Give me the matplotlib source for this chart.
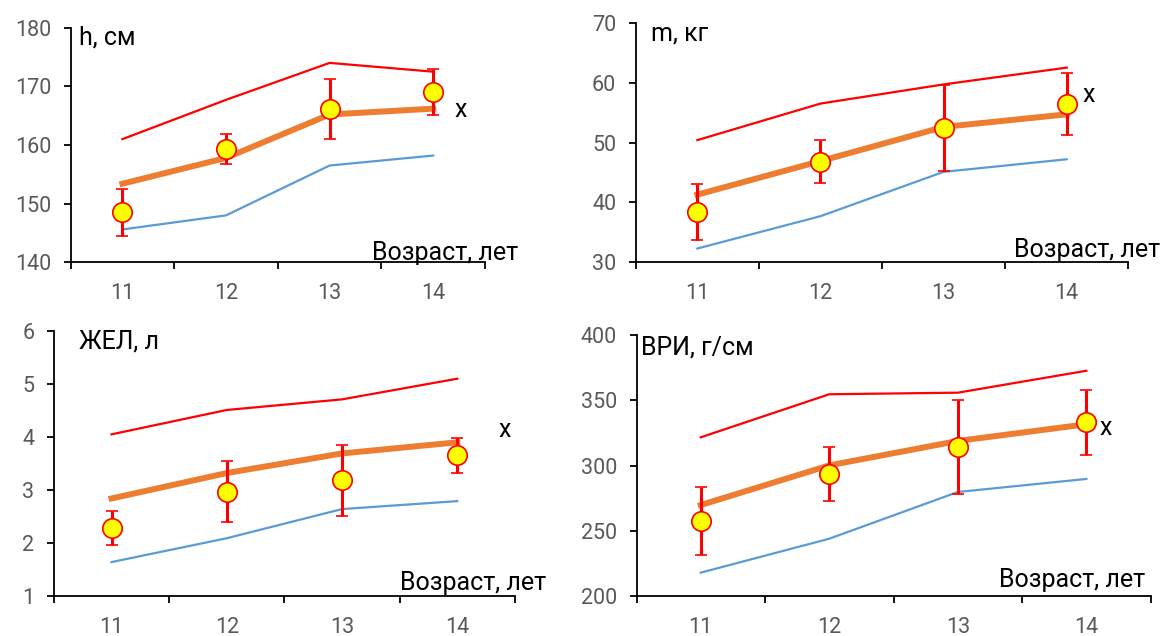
import matplotlib.pyplot as plt
import numpy as np

plt.rcParams['font.family'] = ['Roboto', 'DejaVu Sans']

ages = ["11", "12", "13", "14"]

# h, cm
h_up = [161.0, 167.7, 174.0, 172.5]
h_low = [145.6, 148.0, 156.5, 158.2]
h_mid = [153.4, 157.8, 165.2, 166.2]
h_mean = [148.5, 159.3, 166.1, 169.0]
h_err = [4.0, 2.6, 5.1, 3.9]

# m, kg
m_up = [50.4, 56.5, 59.7, 62.5]
m_low = [32.3, 37.7, 45.1, 47.2]
m_mid = [41.3, 46.9, 52.6, 54.7]
m_mean = [38.4, 46.8, 52.4, 56.4]
m_err = [4.6, 3.6, 7.2, 5.2]

# ЖЕЛ, л
vc_up = [4.05, 4.51, 4.71, 5.10]
vc_low = [1.64, 2.09, 2.64, 2.79]
vc_mid = [2.84, 3.32, 3.69, 3.90]
vc_mean = [2.28, 2.97, 3.18, 3.66]
vc_err = [0.32, 0.58, 0.67, 0.33]

# ВРИ, г/см
vri_up = [321.6, 354.6, 355.8, 372.6]
vri_low = [217.9, 243.9, 279.7, 289.7]
vri_mid = [269.7, 300.1, 318.8, 331.6]
vri_mean = [257.7, 293.5, 313.9, 333.1]
vri_err = [26.0, 20.6, 36.0, 25.0]

W, H = 1163, 636
FS = 15.5     # tick labels
FS_T = 18     # texts inside panels


def px_rect(left, right, top, bottom):
    return [left / W, 1 - bottom / H, (right - left) / W, (bottom - top) / H]


def fig_text(fig, x, y, s, **kw):
    fig.text(x / W, 1 - y / H, s, fontsize=FS_T, color='black', va='center', **kw)


def draw_panel(fig, rect, up, low, mid, mean, err, yticks, title, title_xy, x_xy, age_xy):
    ax = fig.add_axes(rect)
    ax.spines['right'].set_visible(False)
    ax.spines['top'].set_visible(False)
    for s in ['left', 'bottom']:
        ax.spines[s].set_linewidth(1.3)
        ax.spines[s].set_color('black')
    idx = np.arange(len(ages))
    ax.plot(idx, up, color='#FF0000', linewidth=1.6, zorder=2)
    ax.plot(idx, low, color='#5B9BD5', linewidth=1.6, zorder=2)
    ax.plot(idx, mid, color='#ED7D31', linewidth=4.3, zorder=3)
    ax.errorbar(idx, mean, yerr=err, fmt='o', color='#FF0000', ecolor='#FF0000',
                elinewidth=2.2, capsize=4.5, capthick=2.2, markersize=14,
                markerfacecolor='#FFFF00', markeredgecolor='#FF0000', markeredgewidth=1.2, zorder=4)
    ax.set_xlim(-0.5, len(ages) - 0.5)
    ax.set_ylim(yticks[0], yticks[-1])
    ax.set_yticks(yticks)
    ax.set_xticks(idx)
    ax.set_xticklabels(ages)
    ax.set_xticks(np.arange(len(ages) + 1) - 0.5, minor=True)
    ax.tick_params(axis='x', which='major', length=0, pad=15, labelsize=FS, labelcolor='#595959')
    ax.tick_params(axis='x', which='minor', length=5, width=1.3, direction='out', color='black')
    ax.tick_params(axis='y', which='major', length=5, width=1.3, pad=9, labelsize=FS,
                   labelcolor='#595959', color='black')
    fig_text(fig, title_xy[0], title_xy[1], title, ha='left')
    fig_text(fig, x_xy[0], x_xy[1], 'x', ha='center')
    fig_text(fig, age_xy[0], age_xy[1], 'Возраст, лет', ha='right')
    return ax


fig = plt.figure(figsize=(W / 100, H / 100), dpi=100)

draw_panel(fig, px_rect(70.6, 485, 27.7, 262.3), h_up, h_low, h_mid, h_mean, h_err,
           [140, 150, 160, 170, 180], 'h, см', (79, 38), (461, 110), (518, 253))
draw_panel(fig, px_rect(635.8, 1128.3, 22.7, 262.3), m_up, m_low, m_mid, m_mean, m_err,
           [30, 40, 50, 60, 70], 'm, кг', (651, 34), (1089, 95), (1160, 250))
draw_panel(fig, px_rect(53.9, 514.9, 331, 596), vc_up, vc_low, vc_mid, vc_mean, vc_err,
           [1, 2, 3, 4, 5, 6], 'ЖЕЛ, л', (79, 342), (505, 430), (546, 583))
draw_panel(fig, px_rect(636.5, 1150.6, 335, 596), vri_up, vri_low, vri_mid, vri_mean, vri_err,
           [200, 250, 300, 350, 400], 'ВРИ, г/см', (641, 347), (1106, 428), (1145, 580))

fig.savefig('out.png', dpi=100)
